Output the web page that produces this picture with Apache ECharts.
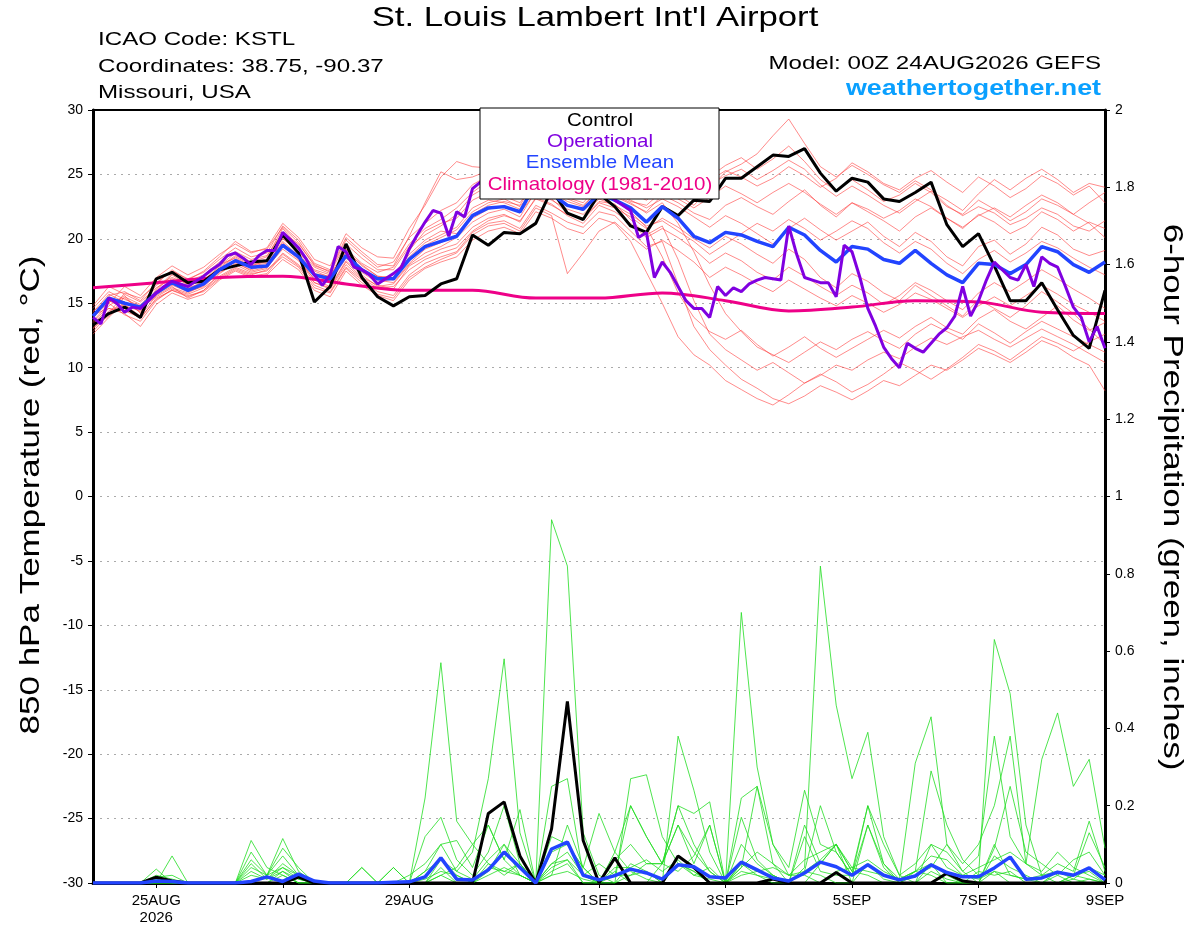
<!DOCTYPE html>
<html>
<head>
<meta charset="utf-8">
<title>KSTL GEFS</title>
<script src="https://cdn.jsdelivr.net/npm/echarts@6.0.0/dist/echarts.min.js"></script>
<style>
  html, body { margin: 0; padding: 0; background: #fff; }
  #chart { width: 1200px; height: 927px; }
</style>
</head>
<body>
<div id="chart"></div>
<script>
// x values are forecast hours from 00Z 24AUG2026
var tickHours = [24, 72, 120, 192, 240, 288, 336, 384];
var tickNames = ['25AUG\n2026', '27AUG', '29AUG', '1SEP', '3SEP', '5SEP', '7SEP', '9SEP'];

// 850 hPa temperature, 6-hourly (65 values)
var ctrlTemp = [13.3,14.2,14.7,13.9, 16.9,17.4,16.6,16.7, 17.6,17.9,18.2,18.3, 20.3,18.9,15.1,16.3, 19.6,17.0,15.5,14.8, 15.5,15.6,16.5,16.9, 20.3,19.5,20.5,20.4, 21.2,23.8,22.0,21.5, 23.5,22.5,21.0,20.5, 22.5,21.8,23.0,22.9, 24.7,24.7,25.6,26.5, 26.4,27.0,25.1,23.7, 24.7,24.4,23.1,22.9, 23.6,24.4,21.1,19.4, 20.4,17.9,15.2,15.2, 16.6,14.5,12.5,11.5, 16.0];
var meanTemp = [14.0,15.4,15.0,14.7, 15.8,16.6,16.0,16.5, 17.6,18.3,17.8,17.9, 19.5,18.6,17.2,16.9, 18.7,17.6,16.9,16.9, 18.4,19.4,19.8,20.2, 21.8,22.4,22.5,22.1, 24.3,23.5,22.6,22.3, 23.5,23.0,22.4,21.3, 22.5,21.6,20.2,19.7, 20.5,20.3,19.8,19.4, 20.9,20.3,19.1,18.2, 19.4,19.2,18.4,18.1, 19.1,18.1,17.2,16.6, 18.1,18.0,17.3,18.0, 19.4,19.0,18.0,17.4, 18.2];

// operational run, 3-hourly (129 values)
var opTemp = [13.9,13.4,15.4,15.0,14.3,14.7,14.6,15.2, 15.8,16.3,16.7,16.5,16.3,16.7,17.1,17.6, 18.0,18.7,18.9,18.5,18.0,18.7,19.1,19.1, 20.5,19.9,19.3,18.4,17.2,16.4,17.2,19.4, 19.0,17.8,17.6,17.2,16.5,16.9,17.3,17.8, 19.2,20.3,21.3,22.2,22.0,20.2,22.1,21.7, 23.9,24.4,24.8,25.3,24.7,25.1,24.4,24.9, 25.4,24.6,24.0,23.6,23.9,24.3,23.7,24.1, 24.5,23.9,23.0,22.6,22.2,20.1,20.5,17.0, 18.2,17.4,16.3,15.2,14.6,14.6,13.9,16.3, 15.6,16.2,15.9,16.5,16.8,17.0,16.9,16.8, 21.0,18.8,17.0,16.8,16.6,16.6,15.5,19.5, 19.0,17.0,14.6,13.2,11.6,10.7,10.0,11.9, 11.5,11.2,11.9,12.6,13.1,14.0,16.3,14.0, 15.2,16.8,18.2,17.6,17.0,16.8,18.0,16.3, 18.6,18.1,17.8,16.3,14.7,13.9,12.0,13.2, 11.5];

// 1981-2010 climatology, daily
var climTemp = [16.2,16.6,17.0,17.1,16.5,16.0,16.0,15.4,15.4,15.8,15.2,14.4,14.7,15.2,15.1,14.3,14.2];

// ensemble members, 6-hourly
var memberTemp = [
  [13.5,14.8,15.6,14.2, 16.0,17.2,16.4,16.8, 17.9,18.9,18.2,18.6, 20.8,19.4,17.5,17.0, 19.2,18.1,17.4,17.8, 19.6,20.8,21.5,22.4, 23.6,24.5,24.0,23.2, 24.8,24.1,23.5,23.9, 24.6,24.2,23.6,23.0, 24.0,23.4,22.6,23.9, 25.2,25.8,26.6,28.0, 29.3,27.4,25.6,24.8, 25.7,25.0,24.2,23.6, 24.5,23.8,22.6,21.8, 22.5,22.0,21.1,21.6, 22.4,21.9,21.0,20.6, 21.4],
  [14.2,15.0,14.1,13.6, 15.2,16.1,15.7,16.2, 17.1,17.8,17.3,17.5, 18.9,18.0,16.4,15.9, 17.8,16.8,15.9,15.6, 17.2,18.1,18.6,19.0, 20.5,21.2,21.4,20.8, 22.6,22.0,21.3,20.9, 22.1,21.8,20.6,19.4, 19.8,16.5,13.2,11.4, 10.2,9.1,8.4,7.6, 7.2,7.8,8.6,8.1, 7.5,8.2,9.0,8.6, 9.4,10.2,9.8,10.6, 11.5,11.0,10.4,11.2, 12.1,11.6,10.8,10.2, 8.2],
  [13.0,14.4,14.9,14.0, 15.6,16.3,15.4,16.0, 17.3,18.1,17.6,18.0, 19.7,18.5,16.8,16.3, 18.3,17.2,16.3,16.5, 18.0,18.9,19.4,20.1, 21.3,22.0,22.3,21.7, 23.7,23.1,22.0,21.6, 22.9,22.7,21.5,20.3, 21.0,18.4,15.2,12.6, 11.4,10.6,9.8,10.4, 9.6,8.8,9.4,10.2, 9.8,10.6,11.2,10.7, 11.6,12.3,11.8,12.4, 12.9,12.2,11.6,12.3, 13.0,12.4,11.8,11.1, 10.4],
  [14.6,15.9,15.3,14.8, 16.4,17.0,16.5,17.1, 18.0,18.5,17.9,18.3, 20.1,18.9,17.3,17.1, 19.0,18.0,17.1,16.8, 18.6,19.7,20.3,20.9, 22.4,23.0,22.8,22.3, 24.1,23.6,22.9,22.5, 23.9,23.4,22.8,22.0, 22.8,21.2,19.0,16.4, 14.2,12.8,11.6,11.0, 10.4,11.2,12.0,11.4, 12.2,12.8,12.1,11.5, 12.6,13.4,12.8,12.2, 13.4,12.7,11.9,12.8, 13.6,13.0,12.4,11.8, 11.2],
  [13.8,15.6,15.9,15.2, 16.6,17.5,16.9,17.4, 18.4,19.3,18.6,18.9, 21.0,19.9,18.1,17.6, 20.1,19.0,18.0,17.9, 20.2,22.8,25.2,24.6, 24.8,25.3,24.6,23.9, 25.0,24.4,23.8,24.3, 25.1,24.6,23.9,23.5, 24.4,24.9,25.6,24.8, 25.7,26.3,25.4,26.2, 27.2,26.0,24.6,23.7, 24.6,23.8,22.9,23.4, 24.3,23.6,22.5,21.9, 23.0,22.3,21.4,22.1, 23.1,22.6,21.9,22.8, 23.6],
  [12.6,13.9,15.1,14.5, 15.9,16.8,16.2,16.6, 17.7,18.6,18.0,18.2, 20.0,19.0,17.6,17.2, 18.9,17.7,16.9,17.2, 18.8,19.9,20.6,20.4, 21.9,22.6,22.9,22.6, 24.6,24.0,23.2,22.8, 24.2,23.8,23.0,22.4, 23.1,22.5,21.7,20.9, 21.8,21.2,20.4,19.6, 20.8,21.6,20.7,19.9, 20.6,21.3,20.2,19.4, 20.5,19.8,18.6,17.9, 19.4,19.9,18.8,19.6, 20.9,20.3,19.2,18.7, 19.1],
  [14.4,15.2,14.6,13.8, 15.4,16.0,15.6,15.9, 16.9,17.6,17.1,17.3, 18.8,17.9,16.6,16.1, 18.0,16.9,16.2,16.3, 17.6,18.4,18.9,19.3, 20.6,21.4,21.8,21.4, 23.1,22.6,21.9,21.5, 22.8,22.4,21.7,20.8, 21.6,20.9,20.0,19.3, 20.2,19.6,18.8,18.1, 19.2,18.4,17.0,16.2, 17.3,16.7,15.8,15.2, 16.4,15.6,14.8,14.0, 15.3,14.6,13.9,14.8, 15.9,15.1,14.2,13.0, 11.8],
  [13.6,15.0,16.3,15.6, 17.0,17.9,17.2,17.8, 18.8,19.6,18.9,19.3, 21.2,20.1,18.4,17.9, 20.4,19.3,18.6,18.5, 20.8,22.6,24.8,26.0, 25.6,25.5,24.9,24.3, 25.4,25.0,24.5,24.8, 25.3,24.9,24.2,24.0, 25.0,24.3,23.7,24.5, 25.3,24.8,24.1,24.7, 25.6,24.9,24.0,24.7, 25.9,25.2,24.3,23.8, 24.7,25.3,24.4,23.6, 24.8,24.1,23.2,23.9, 24.9,24.3,23.4,24.1, 22.8],
  [13.4,14.6,14.2,13.2, 14.9,15.8,15.3,15.7, 16.8,17.5,17.0,17.2, 18.4,17.6,16.0,15.5, 17.5,16.4,15.6,15.2, 16.8,17.7,18.2,18.6, 19.9,20.6,20.9,20.4, 22.1,21.6,20.8,20.4, 21.6,21.2,19.8,17.4, 15.0,12.4,11.0,10.2, 9.0,8.3,7.6,7.1, 7.9,8.8,9.5,8.9, 8.1,8.7,9.5,10.4, 9.8,9.1,9.9,10.8, 11.8,11.3,10.6,11.5, 12.4,11.9,11.3,12.0, 12.6],
  [14.8,16.3,15.7,15.1, 16.2,16.9,16.3,16.9, 17.6,18.2,17.5,17.8, 19.2,18.3,16.9,16.6, 18.5,17.4,16.6,16.9, 19.1,20.6,21.2,21.6, 23.0,23.6,23.3,22.8, 24.4,23.9,23.1,22.6, 23.8,23.3,22.7,22.1, 23.4,22.8,22.0,21.5, 22.6,23.2,22.5,21.9, 22.9,23.8,22.6,21.7, 22.8,22.1,21.4,20.6, 21.7,22.4,21.6,20.8, 21.9,21.3,20.4,21.0, 22.1,21.5,20.6,21.3, 20.8],
  [13.1,14.0,15.5,14.9, 15.7,16.4,15.9,16.3, 17.4,18.0,17.4,17.7, 19.4,18.4,16.6,16.2, 18.2,17.0,16.4,16.1, 17.9,18.6,19.2,19.6, 20.9,21.6,21.9,21.3, 23.2,22.7,21.8,21.2, 22.6,22.1,21.2,20.1, 20.8,20.1,19.2,18.1, 18.9,18.3,17.4,16.8, 17.8,17.1,16.3,15.6, 16.4,15.8,14.9,15.6, 16.6,16.0,15.2,14.5, 15.8,16.6,15.9,16.7, 17.6,16.9,16.1,15.4, 14.6],
  [14.0,15.4,14.8,14.4, 16.1,17.3,16.7,17.2, 18.2,19.0,18.4,18.7, 20.5,19.6,18.0,17.4, 19.6,18.5,17.6,17.6, 19.4,20.3,21.0,21.9, 23.4,24.1,23.8,23.4, 25.2,24.8,24.0,23.6, 24.8,24.5,23.9,23.4, 24.6,25.6,24.9,24.2, 24.9,25.4,24.6,25.3, 26.1,25.4,24.2,23.3, 24.1,23.4,22.6,22.0, 22.9,23.7,23.0,22.2, 23.5,24.6,23.8,24.7, 25.4,24.6,23.6,24.3, 24.0],
  [13.9,15.1,15.4,14.6, 15.5,16.2,15.8,16.4, 17.5,18.4,17.9,18.1, 19.8,18.7,17.2,16.7, 18.6,17.5,16.8,16.6, 18.1,19.2,19.7,20.3, 21.6,22.3,22.6,22.0, 23.6,23.0,22.3,21.9, 23.1,22.6,21.9,21.0, 21.4,20.6,19.8,18.8, 19.6,20.4,21.2,20.6, 21.5,20.8,19.9,20.6, 21.4,20.8,19.7,18.9, 19.8,19.2,18.1,17.3, 18.4,19.1,18.2,18.9, 19.8,19.3,18.5,17.8, 17.2],
  [14.3,15.7,15.1,14.3, 15.9,16.7,16.1,16.7, 17.8,18.7,18.1,18.4, 20.3,19.2,17.8,17.3, 19.1,17.9,17.1,17.0, 18.5,19.5,20.1,20.7, 22.1,22.8,23.1,22.5, 24.0,23.4,22.6,22.2, 23.4,23.0,22.1,20.9, 18.6,15.8,13.9,12.8, 12.2,12.9,11.8,10.9, 11.6,12.4,11.5,10.8, 11.5,12.2,12.9,12.3, 13.2,13.9,13.1,12.6, 13.8,14.5,13.6,13.0, 13.9,14.8,13.7,12.9, 13.5],
  [12.8,14.2,15.8,15.4, 16.5,17.6,16.8,17.5, 18.6,19.8,19.0,19.2, 20.9,19.7,17.9,17.5, 19.9,18.8,17.8,18.2, 20.1,21.2,22.2,22.8, 24.2,24.9,24.4,23.7, 24.9,24.2,23.4,23.1, 24.3,23.7,22.9,22.6, 23.7,23.1,22.4,23.2, 24.1,23.5,22.8,23.6, 24.3,23.6,22.7,21.9, 22.8,22.3,21.6,22.2, 23.1,22.5,21.6,20.9, 21.8,22.4,21.7,22.6, 23.4,22.8,21.9,21.2, 20.1],
  [14.1,14.6,14.4,13.9, 15.3,16.0,15.5,16.0, 17.0,17.7,17.2,17.6, 18.6,17.8,16.2,15.8, 17.7,16.6,15.7,15.4, 17.0,17.8,18.4,18.9, 20.3,21.0,21.2,20.6, 22.4,21.8,17.3,18.9, 20.6,21.3,20.2,19.2, 19.9,19.1,18.2,17.0, 17.8,17.2,16.5,15.9, 16.8,16.1,15.4,14.8, 15.6,15.0,14.3,14.9, 15.8,15.3,14.6,13.9, 14.8,15.5,14.8,15.6, 16.4,15.7,14.9,14.3, 13.6]
];

// 6-hour precipitation (inches), 6-hourly
var ctrlPrcp = [0,0,0,0, 0.015,0.005,0,0, 0,0,0,0, 0,0.015,0,0, 0,0,0,0, 0,0,0,0, 0,0.18,0.21,0.07, 0,0.14,0.47,0.11, 0,0.065,0,0, 0,0.07,0.04,0, 0,0,0,0.01, 0,0,0,0.027, 0,0,0,0, 0,0,0.025,0.005, 0,0,0,0, 0,0,0,0, 0];
var meanPrcp = [0,0,0,0, 0.005,0.004,0,0, 0,0,0.004,0.016, 0.004,0.023,0.005,0, 0,0,0,0.002, 0.003,0.016,0.065,0.01, 0.008,0.034,0.08,0.04, 0,0.088,0.106,0.02, 0.008,0.019,0.036,0.026, 0.01,0.047,0.042,0.016, 0.013,0.054,0.034,0.013, 0.005,0.026,0.054,0.042, 0.02,0.047,0.02,0.008, 0.018,0.047,0.027,0.016, 0.016,0.039,0.067,0.01, 0.013,0.028,0.02,0.039, 0.008];
var memberPrcp = [
  [0,0,0,0, 0.02,0.01,0,0, 0,0,0.03,0.01, 0.05,0.02,0,0, 0,0,0,0, 0,0.12,0.17,0.06, 0.02,0.08,0.2,0.05, 0,0.94,0.82,0.13, 0.02,0,0.05,0.03, 0,0.05,0.02,0.01, 0,0.05,0.02,0, 0,0.03,0.2,0.08, 0.02,0.05,0.01,0, 0,0.05,0.02,0, 0,0.07,0.04,0.02, 0,0.03,0.01,0.04, 0.02],
  [0,0,0,0, 0.036,0,0,0, 0,0,0.11,0.04, 0.02,0,0,0, 0,0,0,0, 0,0.22,0.57,0.16, 0.1,0.15,0.06,0.02, 0,0.12,0.1,0.04, 0,0.03,0,0, 0.05,0.15,0.08,0.03, 0,0.17,0.06,0.02, 0,0.04,0.82,0.46, 0.27,0.39,0.12,0.02, 0.05,0.1,0.04,0.02, 0.01,0.03,0,0, 0,0.02,0,0.01, 0],
  [0,0,0,0, 0,0.07,0,0, 0,0,0.08,0.02, 0.09,0.04,0,0, 0,0,0,0.04, 0,0,0.06,0.03, 0.08,0.27,0.58,0.13, 0,0.25,0.27,0.02, 0,0,0.27,0.28, 0.12,0.05,0.03,0, 0,0.03,0.02,0.01, 0,0,0.05,0.1, 0.03,0.02,0,0, 0,0.03,0.01,0, 0,0.1,0.02,0.01, 0,0,0.02,0.13, 0.04],
  [0,0,0,0, 0.01,0,0,0, 0,0,0.06,0.02, 0.115,0.03,0,0, 0,0.04,0,0, 0,0.03,0.1,0.11, 0.04,0.15,0.06,0.19, 0,0.02,0.15,0.04, 0.18,0.08,0.03,0.01, 0,0.38,0.24,0.08, 0,0.7,0.3,0.1, 0.02,0.03,0.02,0, 0,0.05,0.02,0.01, 0.03,0.02,0,0, 0,0.03,0.02,0.01, 0.02,0,0.01,0, 0],
  [0,0,0,0, 0,0,0,0, 0,0,0,0.02, 0.07,0.02,0,0, 0,0,0,0, 0,0,0.04,0, 0,0.05,0.02,0.05, 0,0.03,0.05,0, 0,0.08,0.2,0.12, 0.05,0.15,0.05,0.15, 0,0.22,0.25,0.1, 0.04,0.24,0.1,0.08, 0.02,0.15,0.05,0, 0.03,0.29,0.15,0.06, 0.02,0.63,0.49,0.15, 0.02,0.03,0.02,0.01, 0],
  [0,0,0,0, 0,0,0,0, 0,0,0.04,0.02, 0.04,0.01,0,0, 0,0.04,0,0.04, 0,0,0.02,0.04, 0.1,0.05,0.03,0.05, 0,0.05,0.06,0, 0,0.02,0.02,0.05, 0.05,0.2,0.18,0.21, 0,0.1,0.05,0.02, 0,0.15,0.05,0.1, 0.03,0.2,0.05,0.01, 0.31,0.43,0.1,0.05, 0.1,0.2,0.38,0.05, 0.32,0.44,0.25,0.32, 0.09],
  [0,0,0,0, 0.015,0.02,0,0, 0,0,0.05,0.01, 0.03,0.01,0,0, 0,0,0,0, 0.02,0.05,0.1,0.03, 0.01,0.06,0.1,0.05, 0,0.08,0.1,0.04, 0,0.04,0.04,0.06, 0.03,0.06,0.02,0.04, 0,0.04,0.08,0.05, 0.02,0.06,0.08,0.1, 0.04,0.06,0.03,0.01, 0.03,0.07,0.06,0.02, 0.04,0.06,0.08,0.05, 0.02,0.05,0.03,0.16, 0.03],
  [0,0,0,0, 0,0,0,0, 0,0,0.02,0.01, 0.04,0.02,0,0, 0,0,0,0, 0,0.01,0.03,0.02, 0,0.02,0.04,0.02, 0,0.05,0.08,0.02, 0,0.06,0.1,0.05, 0.05,0.03,0.07,0.15, 0,0.05,0.03,0.02, 0,0.12,0.03,0.02, 0.02,0.2,0.1,0.02, 0,0.1,0.08,0.03, 0,0.09,0.25,0.08, 0.05,0.02,0.06,0.08, 0.02],
  [0,0,0,0, 0,0,0,0, 0,0,0,0, 0.02,0,0,0, 0,0,0,0, 0,0.03,0.06,0.02, 0,0.04,0.03,0.02, 0,0.02,0.03,0.01, 0,0,0.02,0.03, 0,0.05,0.03,0, 0,0.02,0.03,0.04, 0.02,0.02,0,0.03, 0.04,0.03,0.02,0.01, 0.03,0.05,0,0, 0.03,0.02,0.03,0, 0,0,0.02,0.03, 0],
  [0,0,0,0, 0,0,0,0, 0,0,0,0, 0.03,0,0,0, 0,0,0,0, 0,0,0.02,0, 0,0.03,0.1,0.02, 0,0.04,0.06,0.02, 0.05,0.02,0.2,0.12, 0.05,0.2,0.1,0.03, 0,0.04,0.25,0.05, 0,0.03,0.06,0.1, 0,0.15,0.04,0, 0.02,0.04,0.1,0.03, 0.07,0.38,0.12,0.05, 0.03,0.08,0.04,0.02, 0]
];

var FONT = '"Liberation Sans", Arial, sans-serif';

function toPairs(values, step) {
  return values.map(function (v, i) { return [i * step, v]; });
}

function lineSeries(name, values, step, axis, color, width, z) {
  return {
    name: name,
    type: 'line',
    yAxisIndex: axis,
    data: toPairs(values, step),
    showSymbol: false,
    symbol: 'none',
    silent: true,
    lineStyle: { color: color, width: width },
    z: z
  };
}

// stretched text, the original lettering is wider than Liberation Sans
function label(text, x, y, size, color, align, stretch, extra) {
  var el = {
    type: 'text', x: x, y: y, scaleX: stretch,
    style: { text: text, font: size + 'px ' + FONT, fill: color, align: align, verticalAlign: 'middle' }
  };
  if (extra) {
    for (var k in extra) { el[k] = extra[k]; }
  }
  return el;
}

var series = [];
memberTemp.forEach(function (m, i) {
  series.push(lineSeries('mem' + i, m, 6, 0, 'rgba(255,60,60,0.75)', 0.8, 2));
});
memberPrcp.forEach(function (m, i) {
  series.push(lineSeries('prcp' + i, m, 6, 1, '#22dd22', 0.8, 2));
});
series.push(lineSeries('ctrlPrcp', ctrlPrcp, 6, 1, '#000000', 3, 3));
series.push(lineSeries('meanPrcp', meanPrcp, 6, 1, '#2244ff', 3.5, 4));
var clim = lineSeries('Climatology', climTemp, 24, 0, '#ee0088', 3, 5);
clim.smooth = 0.35;
series.push(clim);
series.push(lineSeries('Control', ctrlTemp, 6, 0, '#000000', 3, 6));
series.push(lineSeries('Ensemble Mean', meanTemp, 6, 0, '#2244ff', 3.5, 7));
series.push(lineSeries('Operational', opTemp, 3, 0, '#8000e0', 3, 8));

var chart = echarts.init(document.getElementById('chart'), null, { renderer: 'canvas' });

var option = {
  animation: false,
  backgroundColor: '#ffffff',
  textStyle: { fontFamily: FONT },
  grid: { left: 93, right: 95, top: 110, bottom: 44 },
  xAxis: [
    {
      type: 'value',
      min: 0, max: 384, interval: 24,
      axisLine: { show: true, onZero: false, lineStyle: { color: '#000', width: 3 } },
      axisTick: { show: true, customValues: tickHours, length: 5, lineStyle: { color: '#000', width: 1 } },
      axisLabel: {
        customValues: tickHours,
        color: '#000', fontSize: 15, fontFamily: FONT, margin: 9, lineHeight: 17,
        formatter: function (v) {
          var i = tickHours.indexOf(v);
          return i >= 0 ? tickNames[i] : '';
        }
      },
      splitLine: { show: false }
    },
    {
      type: 'value', position: 'top',
      min: 0, max: 384,
      axisLine: { show: true, onZero: false, lineStyle: { color: '#000', width: 2 } },
      axisTick: { show: false },
      axisLabel: { show: false },
      splitLine: { show: false }
    }
  ],
  yAxis: [
    {
      type: 'value', min: -30, max: 30, interval: 5,
      position: 'left',
      axisLine: { show: true, onZero: false, lineStyle: { color: '#000', width: 3 } },
      axisTick: { show: true, length: 5, lineStyle: { color: '#000' } },
      axisLabel: { color: '#000', fontSize: 14, fontFamily: FONT, margin: 10 },
      splitLine: { show: true, lineStyle: { color: '#aaaaaa', type: [2, 5], width: 1 } }
    },
    {
      type: 'value', min: 0, max: 2, interval: 0.2,
      position: 'right',
      axisLine: { show: true, onZero: false, lineStyle: { color: '#000', width: 3 } },
      axisTick: { show: true, length: 5, lineStyle: { color: '#000' } },
      axisLabel: { color: '#000', fontSize: 14, fontFamily: FONT, margin: 10 },
      splitLine: { show: false }
    }
  ],
  graphic: [
    label("St. Louis Lambert Int'l Airport", 595, 18, 28, '#000', 'center', 1.24),
    label('ICAO Code: KSTL', 98, 40, 19, '#000', 'left', 1.27),
    label('Coordinates: 38.75, -90.37', 98, 67, 19, '#000', 'left', 1.27),
    label('Missouri, USA', 98, 93, 19, '#000', 'left', 1.27),
    label('Model: 00Z 24AUG2026 GEFS', 1101, 64, 19, '#000', 'right', 1.27),
    label('weathertogether.net', 1101, 89, 'bold 22', '#0aa0ff', 'right', 1.22),
    label('850 hPa Temperature (red, \u00b0C)', 31, 495, 28, '#000', 'center', 1.25, { rotation: Math.PI / 2 }),
    label('6-hour Precipitation (green, inches)', 1172, 497, 28, '#000', 'center', 1.25, { rotation: -Math.PI / 2 }),
    // legend box sits on its own layer above the lines
    {
      type: 'rect', zlevel: 1, z: 10,
      shape: { x: 480, y: 108, width: 239, height: 91 },
      style: { fill: '#fff', stroke: '#000', lineWidth: 1 }
    },
    label('Control', 600, 121, 19, '#000', 'center', 1.08, { zlevel: 1, z: 20 }),
    label('Operational', 600, 142, 19, '#8000e0', 'center', 1.08, { zlevel: 1, z: 20 }),
    label('Ensemble Mean', 600, 163, 19, '#2244ff', 'center', 1.08, { zlevel: 1, z: 20 }),
    label('Climatology (1981-2010)', 600, 185, 19, '#ee0088', 'center', 1.08, { zlevel: 1, z: 20 })
  ],
  series: series
};

chart.setOption(option);
</script>
</body>
</html>
